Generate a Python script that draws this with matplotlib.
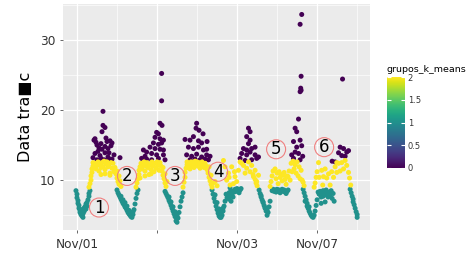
import numpy as np
import matplotlib
matplotlib.use("Agg")
import matplotlib.pyplot as plt
from matplotlib.colors import Normalize

# hours since Nov/01 00:00 and traffic value, one pair of lists per k-means group
hrs_0 = [13, 13, 14, 12.5, 8.5, 9.5, 9, 14.5, 16.5, 17.5, 11, 12.5, 14, 15.5, 17, 9, 10.5, 11.5, 14, 15.5,
         18.5, 10, 12, 13.5, 16, 17.5, 21.5, 8, 12, 15, 16, 10,
         42.3, 42.3, 41.5, 42.5, 39.8, 40.7, 39, 41.5, 43.2, 38.2, 40.7, 42.3, 36.5, 39, 41.5, 43.2, 33.2, 34.8,
         37.3, 39.8, 43.2, 32.3, 34.8, 37.3, 40.7, 44, 34,
         59.8, 59.5, 61, 54, 56.5, 58.2, 60.7, 62.3, 55.7, 58.2, 60.7, 63.2, 64.8, 54.8, 57.3, 59.8, 62.3, 64.8,
         66.5, 56.5, 59, 61.5, 64, 65.7, 63, 65,
         85.7, 86.5, 84.8, 86.5, 85.7, 83.2, 84.8, 87.3, 89, 82.3, 84.8, 86.5, 89, 81.5, 84, 87.3, 89.8, 90.7,
         112.3, 111.5, 112, 111.8, 111.5, 112, 110.7, 109, 109.8, 111.5, 108.2, 109.8, 112.3, 109, 110.7, 107.3,
         112.8, 108.2, 111.5,
         132.7, 129, 131.5, 133.2, 132.3, 134, 134.8, 135.7, 130.7, 127.5]
val_0 = [19.8, 17.8, 17.5, 16.9, 15.7, 15.4, 15.9, 16.0, 15.6, 15.3, 14.6, 14.4, 14.8, 14.5, 14.9, 13.8, 14.1,
         13.5, 13.9, 13.3, 13.6, 12.9, 13.1, 12.9, 13.0, 13.0, 13.2, 13.2, 15.2, 15.5, 13.9, 15.0,
         25.2, 21.3, 18.1, 17.8, 16.8, 16.6, 16.1, 15.9, 15.7, 15.3, 15.1, 15.3, 14.7, 14.5, 14.4, 14.3, 14.3,
         14.0, 13.8, 13.6, 13.6, 13.1, 13.0, 12.9, 13.1, 12.9, 13.4,
         18.1, 17.4, 17.1, 15.8, 15.7, 16.2, 15.6, 15.3, 14.7, 14.5, 14.7, 14.3, 14.4, 13.6, 13.4, 13.7, 13.3,
         13.6, 13.4, 12.9, 13.0, 12.9, 13.0, 12.9, 16.6, 15.5,
         17.4, 16.9, 16.2, 15.7, 15.2, 14.5, 14.3, 14.5, 14.7, 13.8, 13.6, 14.0, 13.6, 13.1, 12.8, 12.9, 13.1,
         13.3,
         33.6, 32.2, 24.8, 23.1, 22.6, 22.8, 18.7, 17.4, 16.9, 15.7, 15.5, 14.7, 14.9, 14.0, 13.8, 13.6, 13.4,
         13.1, 12.9,
         24.4, 12.6, 14.7, 14.5, 13.5, 13.4, 14.0, 14.2, 13.9, 12.7]

hrs_1 = [-0.5, 0, 0, 0.5, 0.5, 1, 1, 1.5, 1.5, 2, 2.5, 3, 3, 3.5, 4, 4, 4.5, 5, 5, 5.5, 6, 6, 6.5, 2, 2.5,
         3.5, 4.5,
         20, 20.5, 21, 21.5, 22, 22.5, 23, 23.5, 24, 24.5, 25, 25.5, 26, 26.5, 27, 27.5, 28, 28.5, 29, 29.5,
         30, 30.5, 22, 23, 24, 25, 26, 27, 28,
         44, 44.5, 45, 45.5, 46, 46.5, 47, 47.5, 48, 48.5, 49, 49.5, 50, 50.5, 51, 51.5, 52, 52.5, 53, 46,
         47, 48, 49, 50,
         67.5, 68, 68.5, 69, 69.5, 70, 70.5, 71, 71.5, 72, 72.5, 73, 73.5, 74, 69, 70, 71, 72, 73,
         74.5, 75, 75.5, 76, 76, 76.5, 77, 77.5, 78, 78.5, 79, 79.5, 80, 80.5, 81, 81.5, 82, 76.5, 77,
         91, 91.5, 92, 92.5, 93, 93.5, 94, 94.5, 95, 95.5, 96, 96.5, 92, 93, 94, 95,
         97.5, 98, 98.5, 99, 99.5, 100, 100.5, 101, 101.5, 102, 102.5, 103, 103.5, 104, 104.5, 105, 105.5,
         113, 113.5, 114, 114.5, 115, 115, 115.5, 116, 116.5, 117, 117.5, 118, 118.5, 119, 119.5, 120, 114, 116,
         120.5, 121, 121.5, 122, 122.5, 123, 123, 123.5, 124, 124.5, 125, 125.5, 126, 126.5, 127, 127.5, 128,
         128.5, 124, 122,
         136.5, 137, 137.5, 138, 138, 138.5, 139, 139.5, 140, 140]
val_1 = [8.5, 8.0, 7.5, 7.1, 6.7, 6.4, 6.0, 5.7, 5.4, 5.1, 4.9, 4.7, 5.2, 5.5, 5.8, 6.2, 5.9, 6.3, 6.8, 7.2,
         7.7, 8.1, 8.5, 5.8, 5.5, 6.0, 6.6,
         8.6, 8.2, 7.9, 7.6, 7.3, 7.0, 6.7, 6.5, 6.2, 6.0, 5.7, 5.4, 5.2, 5.0, 4.8, 4.7, 5.1, 5.8, 6.6, 7.4,
         8.1, 8.6, 7.7, 7.2, 6.8, 6.3, 5.7, 5.3, 5.5,
         8.4, 8.1, 7.8, 7.5, 7.1, 6.8, 6.4, 6.0, 5.6, 5.2, 4.8, 4.2, 4.0, 4.6, 5.4, 6.2, 7.0, 7.6, 8.2, 7.6,
         6.9, 6.2, 5.5, 5.0,
         8.6, 8.0, 7.4, 6.9, 6.3, 5.8, 5.3, 4.9, 4.7, 4.7, 5.0, 5.6, 6.3, 7.0, 7.9, 6.8, 5.9, 5.4, 6.0,
         8.0, 7.5, 7.8, 8.2, 7.3, 7.7, 8.5, 8.1, 7.6, 8.3, 8.7, 8.4, 8.8, 8.5, 8.2, 8.6, 8.8, 8.9, 7.0,
         8.6, 8.1, 7.6, 7.2, 6.8, 6.4, 6.0, 5.6, 5.0, 5.4, 6.2, 7.0, 7.8, 6.9, 6.1, 5.7,
         8.5, 8.7, 8.4, 8.6, 8.3, 8.7, 8.5, 8.6, 8.2, 8.5, 8.7, 8.4, 8.6, 8.3, 8.1, 8.4, 8.6,
         8.7, 8.2, 7.7, 7.2, 6.7, 6.3, 6.0, 5.6, 5.3, 5.0, 4.8, 4.7, 5.0, 5.6, 6.4, 7.2, 7.0, 6.2,
         8.3, 8.0, 8.4, 7.6, 8.1, 8.5, 7.7, 8.2, 7.9, 8.6, 8.0, 7.6, 8.3, 7.9, 8.5, 7.4, 8.1, 7.0, 6.9, 6.7,
         8.7, 8.2, 7.7, 7.3, 6.9, 6.5, 6.0, 5.5, 5.1, 4.7]

hrs_2 = [6, 6.5, 7, 7, 7.5, 7.5, 8, 8, 8.5, 9, 9.5, 10, 10.5, 11, 11.5, 12, 12.5, 13, 13.5, 14, 14.5, 15,
         15.5, 16, 16.5, 17, 17.5, 18, 18.5, 19, 19.5, 20, 20, 20.5, 21, 21, 21.5, 22, 12, 14, 16.5,
         29.5, 30, 30.5, 31, 31, 31.5, 32, 32.5, 33, 33.5, 34, 34.5, 35, 35.5, 36, 36.5, 37, 37.5, 38, 38.5,
         39, 39.5, 40, 40.5, 41, 41.5, 42, 42.5, 43, 43, 43.5, 44, 44, 44.5, 45, 31.5, 34, 37,
         53, 53.5, 54, 54, 54.5, 55, 55, 55.5, 56, 56.5, 57, 57.5, 58, 58.5, 59, 59.5, 60, 60.5, 61, 61.5, 62,
         62.5, 63, 63.5, 64, 64.5, 65, 65.5, 66, 66, 66.5, 67, 67, 67.5, 68, 69, 70,
         73.2, 74, 75.7, 74.8, 77.3, 78.2, 79, 80.7, 81.5, 82.3, 83.2, 84, 84.8, 85.7, 86.5, 87.3, 88.2, 89,
         89.8, 90.7, 79.8, 78.7, 76.5, 76,
         88, 89, 89.5, 90, 96.5, 97, 97.5, 98, 99, 99.5, 100, 100.5, 101, 101.5, 102, 102.5, 103, 103.5, 104,
         104.5, 105, 105.5, 106, 106.5, 107, 107.5, 108, 108.5, 109, 109.5, 110, 110.5, 111, 111.5, 112, 112.5,
         113, 113.5,
         118.5, 119, 119.5, 120, 120.7, 122.3, 123.2, 124, 124.8, 125.7, 126.5, 127.3, 128.2, 129, 129.8,
         130.7, 131.5, 132.3, 133.2, 134, 134.8, 135.7, 136.2, 136.8, 121, 122.8, 129.8]
val_2 = [9.0, 9.5, 10.0, 10.6, 11.1, 11.6, 12.0, 12.5, 11.8, 12.4, 11.6, 12.1, 12.6, 11.3, 12.2, 11.8, 12.5,
         11.9, 12.7, 11.5, 12.3, 12.6, 11.9, 12.2, 11.0, 12.5, 11.7, 12.4, 11.2, 11.8, 10.9, 11.3, 10.3, 9.8,
         10.6, 9.4, 9.9, 9.1, 10.8, 10.9, 10.7,
         9.0, 9.6, 10.2, 10.8, 11.4, 11.9, 12.4, 11.6, 12.1, 12.6, 11.3, 12.0, 12.5, 11.8, 10.8, 12.2, 11.5,
         12.6, 12.0, 11.2, 12.4, 11.7, 12.6, 12.1, 11.4, 12.5, 12.0, 11.3, 10.7, 11.8, 10.2, 9.6, 10.9, 9.1,
         9.8, 10.3, 10.6, 10.9,
         9.0, 9.7, 10.4, 11.1, 11.7, 12.2, 12.6, 11.9, 12.4, 11.6, 12.6, 12.1, 12.5, 11.8, 12.7, 12.3, 12.6,
         12.0, 12.5, 11.7, 12.2, 12.6, 12.3, 11.8, 12.4, 12.0, 11.5, 11.0, 11.9, 10.4, 9.9, 10.7, 9.4, 9.0,
         9.6, 9.8, 9.2,
         12.8, 11.9, 11.0, 10.0, 11.9, 9.5, 10.5, 11.4, 12.6, 12.4, 12.1, 11.0, 11.7, 12.6, 11.2, 12.1, 10.5,
         11.4, 9.8, 10.7, 9.8, 11.2, 9.3, 10.4,
         10.8, 10.1, 9.6, 9.2, 9.1, 9.8, 10.6, 11.3, 11.6, 10.2, 11.0, 9.5, 11.2, 10.4, 10.8, 9.9, 10.7, 11.1,
         10.1, 9.4, 10.6, 10.5, 11.3, 10.0, 12.4, 11.2, 12.7, 11.6, 12.2, 11.0, 12.6, 10.6, 11.9, 10.2, 11.4,
         10.0, 9.7, 9.2,
         9.0, 9.6, 10.4, 11.2, 12.5, 11.4, 10.5, 11.6, 10.3, 10.9, 9.3, 11.2, 10.4, 11.9, 11.1, 12.4, 11.3,
         12.5, 11.6, 12.8, 12.1, 11.1, 10.3, 9.3, 10.4, 9.3, 12.5]

labels = ["1", "2", "3", "4", "5", "6"]
label_hrs = [11, 25, 49, 70.5, 99.5, 123.5]
label_val = [6.1, 10.6, 10.6, 11.2, 14.4, 14.7]

tick_hrs = [0, 40, 80, 120]
tick_lbl = ["Nov/01", "", "Nov/03", "Nov/07"]

x = np.array(hrs_0 + hrs_1 + hrs_2)
y = np.array(val_0 + val_1 + val_2)
grp = np.array([0] * len(hrs_0) + [1] * len(hrs_1) + [2] * len(hrs_2))

fig = plt.figure(figsize=(4.77, 2.54), dpi=100)
ax = fig.add_axes([0.132, 0.0945, 0.644, 0.89])
ax.set_facecolor("#EBEBEB")
for s in ax.spines.values():
    s.set_visible(False)

norm = Normalize(0, 2)
sc = ax.scatter(x, y, c=grp, cmap="viridis", norm=norm, s=13, linewidths=0, zorder=3)

ax.set_xlim(-7, 146.5)
ax.set_ylim(2.9, 35.1)
ax.set_xticks(tick_hrs)
ax.set_xticklabels(tick_lbl)
ax.set_xticks([20, 60, 100, 140], minor=True)
ax.set_yticks([10, 20, 30])
ax.set_yticks([5, 15, 25, 35], minor=True)
ax.grid(True, which="major", color="white", linewidth=0.9, zorder=0)
ax.grid(True, which="minor", color="white", linewidth=0.45, zorder=0)
ax.set_axisbelow(True)
ax.tick_params(which="major", length=2.5, width=0.6, color="#4D4D4D", labelsize=8.7,
               labelcolor="#333333", pad=3)
ax.tick_params(which="minor", length=0)
ax.set_ylabel("Data tra\u25a0c", fontsize=11.5, labelpad=5)

for t, hx, vy in zip(labels, label_hrs, label_val):
    ax.text(hx, vy, t, fontsize=12, ha="center", va="center", zorder=5,
            bbox=dict(boxstyle="circle,pad=0.03", fc="none", ec="#F08080", lw=0.8))

cax = fig.add_axes([0.811, 0.3386, 0.038, 0.358])
cb = fig.colorbar(sc, cax=cax)
cb.outline.set_visible(False)
cb.set_ticks([0, 0.5, 1, 1.5, 2])
cb.set_ticklabels(["0", "0.5", "1", "1.5", "2"])
cax.yaxis.set_ticks_position("both")
cax.tick_params(direction="in", length=3, width=0.8, color="white", labelsize=6,
                labelcolor="#333333", labelleft=False, labelright=True, pad=2)
cax.set_title("grupos_k_means", fontsize=6.8, loc="left", pad=4)

fig.savefig("out.png", dpi=100)
